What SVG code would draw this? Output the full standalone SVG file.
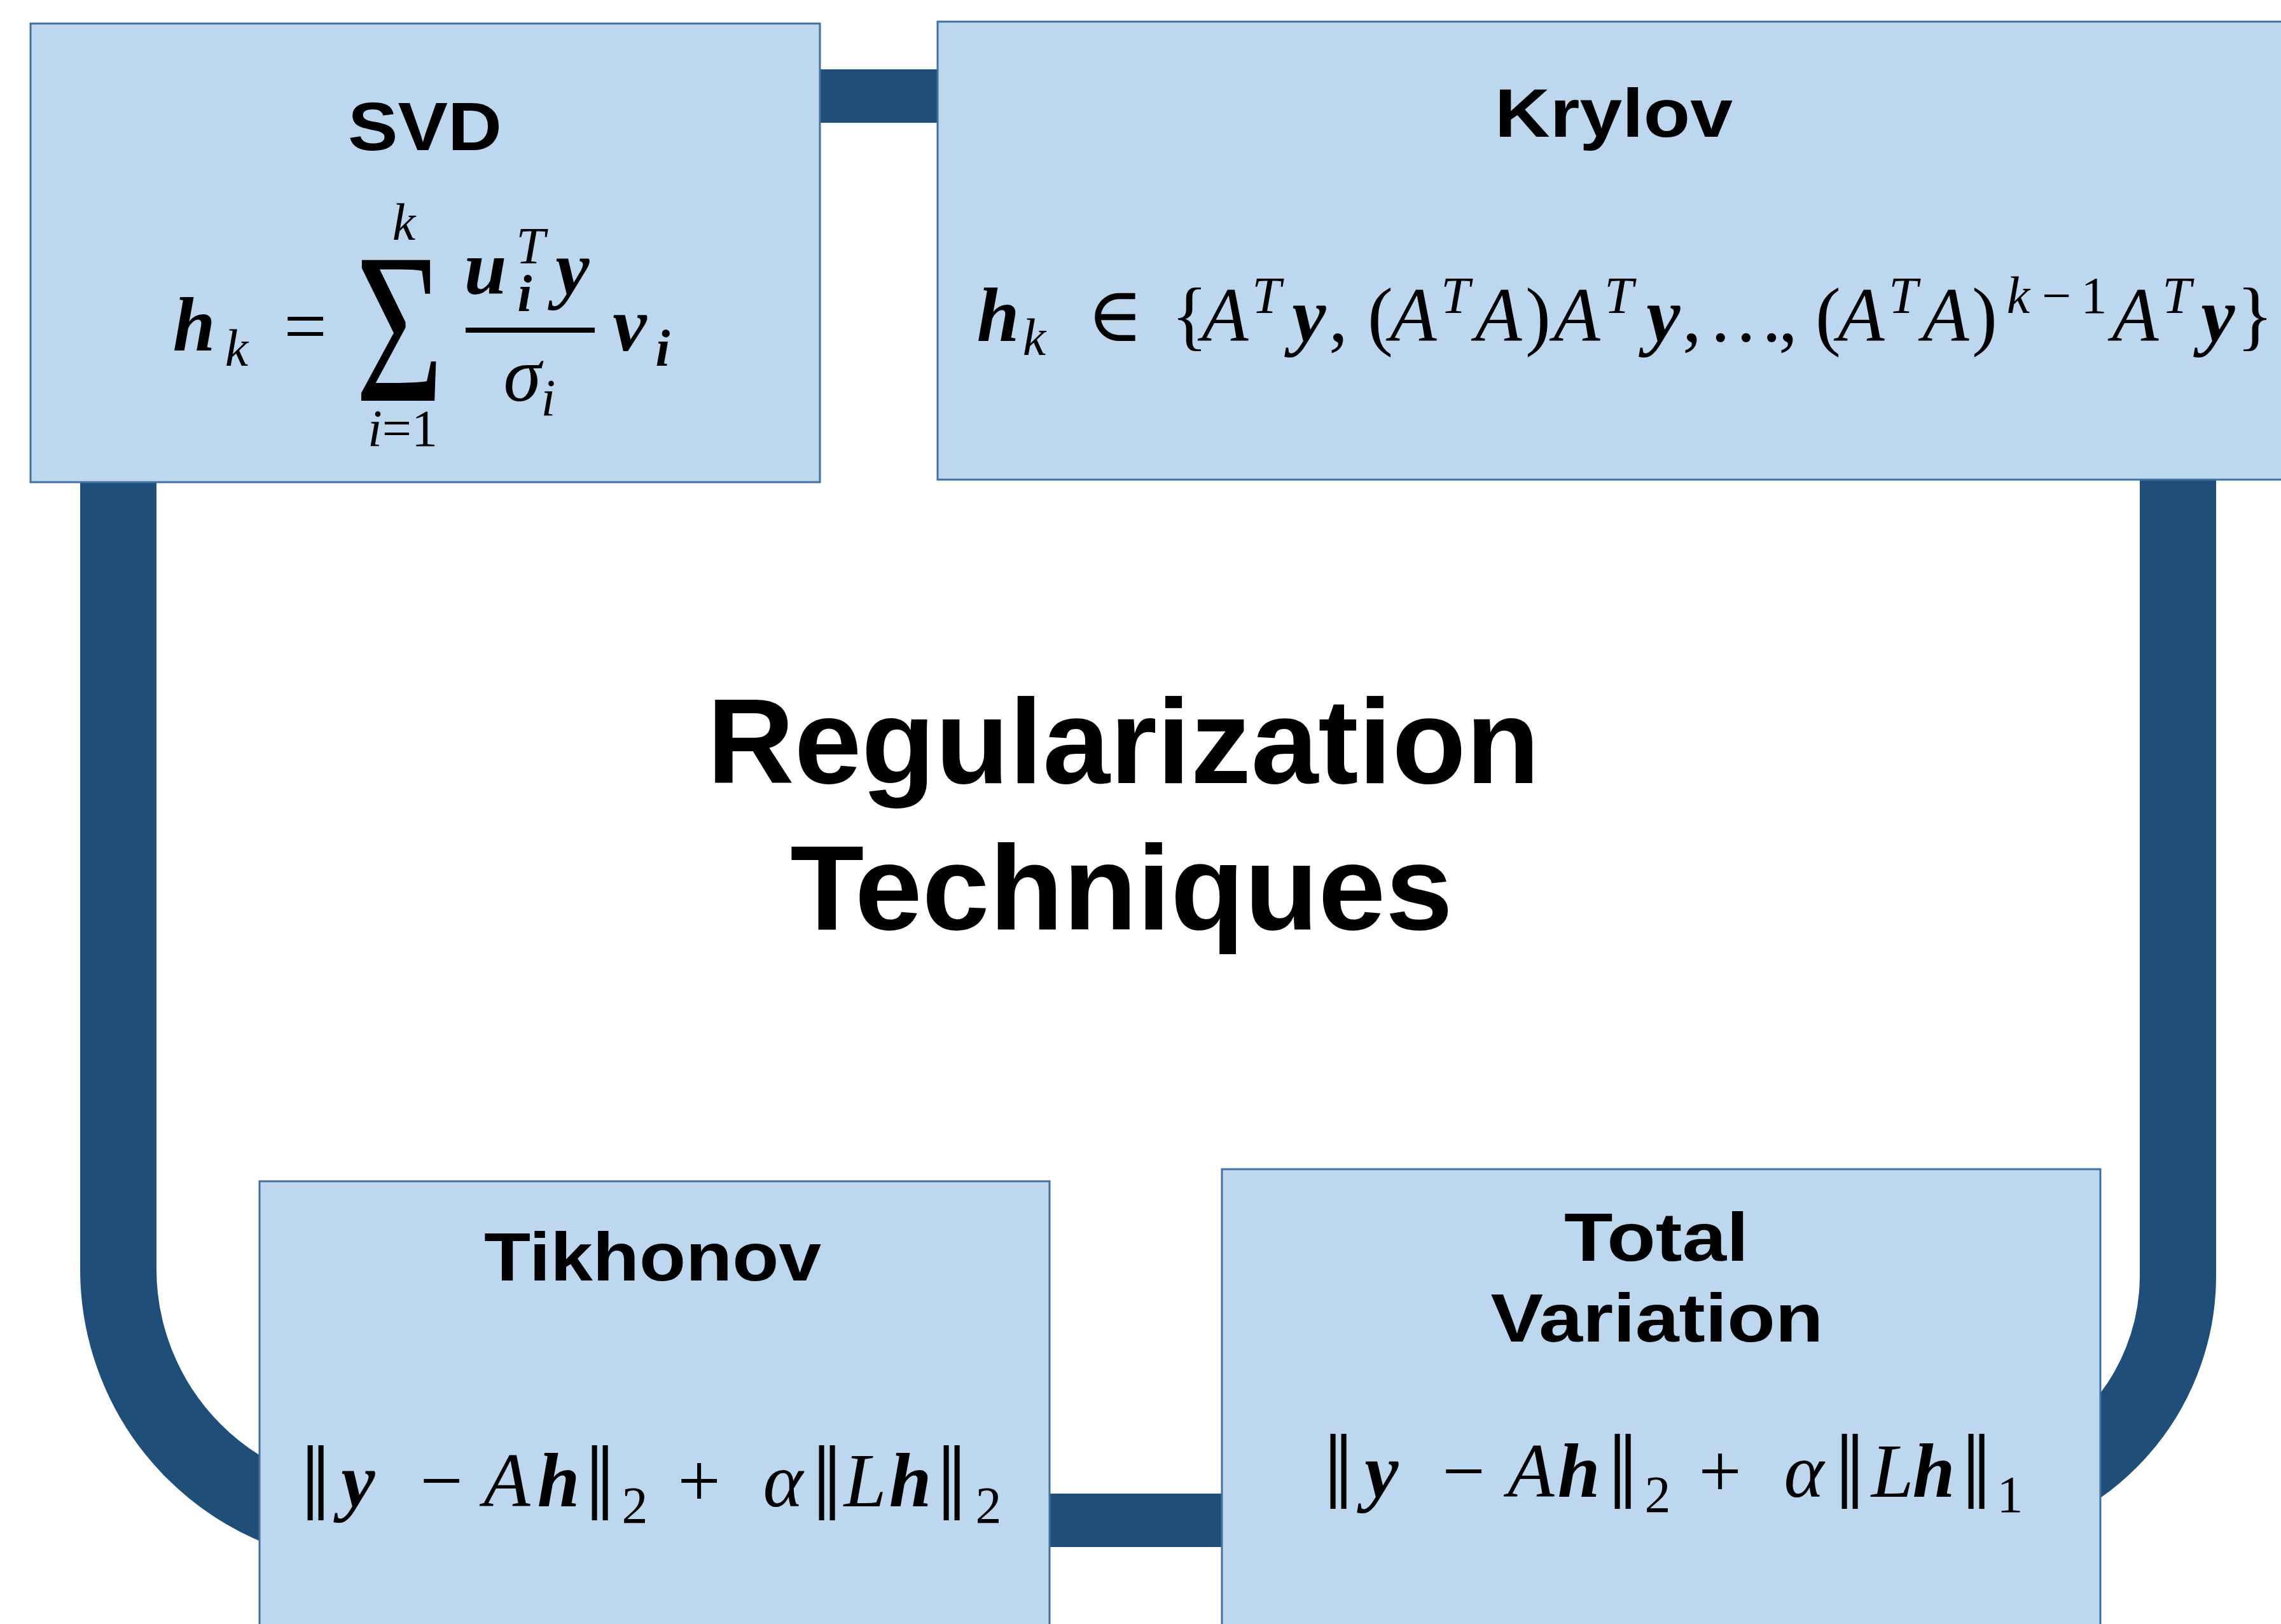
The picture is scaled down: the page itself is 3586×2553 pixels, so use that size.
<svg xmlns="http://www.w3.org/2000/svg" width="3586" height="2553" viewBox="0 0 3586 2553">
<style>
.box{fill:#BDD7EE;stroke:#41719C;stroke-width:3}
.con{fill:none;stroke:#1F4E79;stroke-width:120}
.bar{fill:#1F4E79}
.lbl{font-family:"Liberation Sans",Arial,sans-serif;font-weight:bold;font-size:108px;text-anchor:middle;fill:#000}
.title{font-family:"Liberation Sans",Arial,sans-serif;font-weight:bold;font-size:190px;text-anchor:middle;fill:#000}
.m{font-family:"Liberation Serif","DejaVu Serif",serif;font-style:italic;font-size:120px;text-anchor:middle;fill:#000}
.b{font-weight:bold}
.s{font-size:82px}
.u{font-style:normal}
.n{font-style:normal;font-size:170px}
</style>
<rect width="3586" height="2553" fill="#FFFFFF"/>
<g id="connectors">
<rect class="bar" x="1285" y="109" width="192" height="84"/>
<rect class="bar" x="1645" y="2348" width="280" height="84"/>
<path class="con" d="M186,750 V1995 A405,405 0 0 0 591,2400 H700"/>
<path class="con" d="M3424,750 V2005 A367,367 0 0 1 3057,2372 H2950"/>
</g>
<g id="svd">
<rect class="box" x="48" y="37" width="1241" height="721"/>
<text class="lbl" x="668" y="236" textLength="242" lengthAdjust="spacingAndGlyphs">SVD</text>
<text class="m b" x="305" y="551">h</text>
<text class="m s" x="372" y="575">k</text>
<text class="m u" x="480" y="553">=</text>
<text class="m u" transform="translate(628,630) scale(0.705,1)" style="font-size:338px">Σ</text>
<text class="m s" x="635" y="377">k</text>
<text class="m s" x="633" y="701">i<tspan class="u">=1</tspan></text>
<text class="m b" x="763" y="462">u</text>
<text class="m s" x="834" y="414">T</text>
<text class="m s b" x="825" y="489">i</text>
<text class="m b" x="900" y="462">y</text>
<rect x="732" y="515" width="203" height="8" fill="#000"/>
<text class="m" x="821" y="630">σ</text>
<text class="m s" x="862" y="653">i</text>
<text class="m b" x="990" y="551">v</text>
<text class="m s b" x="1042" y="575">i</text>
</g>
<g id="krylov">
<rect class="box" x="1474" y="34" width="2200" height="720"/>
<text class="lbl" x="2537" y="215" textLength="374" lengthAdjust="spacingAndGlyphs">Krylov</text>
<text class="m b" x="1569" y="536">h</text>
<text class="m s" x="1626" y="558">k</text>
<text class="m u" x="1753" y="536">∈</text>
<text class="m u" x="1870" y="536">{</text>
<text class="m" x="1926" y="536">A</text>
<text class="m s" x="1991" y="492">T</text>
<text class="m b" x="2058" y="536">y</text>
<text class="m u" x="2104" y="536">,</text>
<text class="m u" x="2170" y="536">(</text>
<text class="m" x="2222" y="536">A</text>
<text class="m s" x="2288" y="492">T</text>
<text class="m" x="2356" y="536">A</text>
<text class="m u" x="2418" y="536">)</text>
<text class="m" x="2479" y="536">A</text>
<text class="m s" x="2545" y="492">T</text>
<text class="m b" x="2615" y="536">y</text>
<text class="m u" x="2660" y="536">,</text>
<text class="m u" x="2745" y="536">…</text>
<text class="m u" x="2811" y="536">,</text>
<text class="m u" x="2874" y="536">(</text>
<text class="m" x="2926" y="536">A</text>
<text class="m s" x="2992" y="492">T</text>
<text class="m" x="3059" y="536">A</text>
<text class="m u" x="3120" y="536">)</text>
<text class="m s" x="3173" y="492">k</text>
<text class="m s u" x="3233" y="492">−</text>
<text class="m s u" x="3292" y="492">1</text>
<text class="m" x="3357" y="536">A</text>
<text class="m s" x="3422" y="492">T</text>
<text class="m b" x="3487" y="536">y</text>
<text class="m u" x="3545" y="536">}</text>
</g>
<g id="tikhonov">
<rect class="box" x="408" y="1857" width="1242" height="800"/>
<text class="lbl" x="1026" y="2013" textLength="530" lengthAdjust="spacingAndGlyphs">Tikhonov</text>
<text class="m n" x="496" y="2390">‖</text>
<text class="m b" x="563" y="2368">y</text>
<text class="m u" x="694" y="2368">−</text>
<text class="m" x="797" y="2368">A</text>
<text class="m b" x="878" y="2368">h</text>
<text class="m n" x="943" y="2390">‖</text>
<text class="m s u" x="998" y="2394">2</text>
<text class="m u" x="1099" y="2368">+</text>
<text class="m" x="1231" y="2368">α</text>
<text class="m n" x="1300" y="2390">‖</text>
<text class="m" x="1360" y="2368">L</text>
<text class="m b" x="1431" y="2368">h</text>
<text class="m n" x="1496" y="2390">‖</text>
<text class="m s u" x="1554" y="2394">2</text>
</g>
<g id="total-variation">
<rect class="box" x="1921" y="1838" width="1381" height="800"/>
<text class="lbl" x="2604" y="1982" textLength="290" lengthAdjust="spacingAndGlyphs">Total</text>
<text class="lbl" x="2605" y="2109" textLength="523" lengthAdjust="spacingAndGlyphs">Variation</text>
<text class="m n" x="2104" y="2372">‖</text>
<text class="m b" x="2172" y="2353">y</text>
<text class="m u" x="2301" y="2353">−</text>
<text class="m" x="2407" y="2353">A</text>
<text class="m b" x="2482" y="2353">h</text>
<text class="m n" x="2551" y="2372">‖</text>
<text class="m s u" x="2606" y="2377">2</text>
<text class="m u" x="2704" y="2353">+</text>
<text class="m" x="2836" y="2353">α</text>
<text class="m n" x="2908" y="2372">‖</text>
<text class="m" x="2975" y="2353">L</text>
<text class="m b" x="3040" y="2353">h</text>
<text class="m n" x="3107" y="2372">‖</text>
<text class="m s u" x="3160" y="2377">1</text>
</g>
<g id="title">
<text class="title" x="1766" y="1231">Regularization</text>
<text class="title" x="1763" y="1461">Techniques</text>
</g>
</svg>
